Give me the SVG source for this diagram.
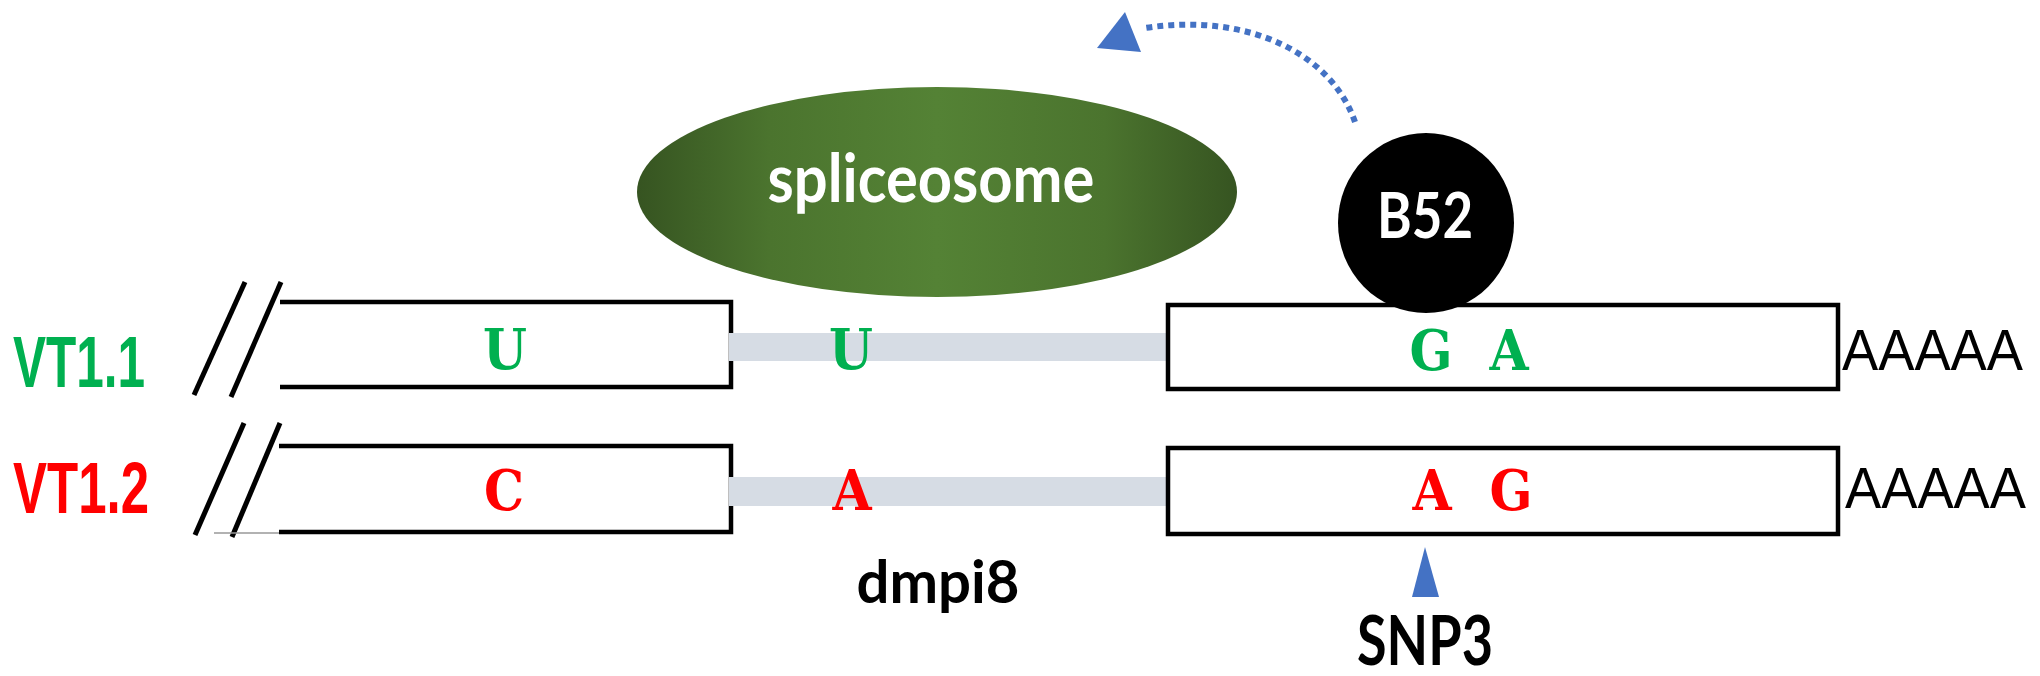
<svg xmlns="http://www.w3.org/2000/svg" width="2040" height="676" viewBox="0 0 2040 676">
<style>
.box{fill:#fff;stroke:#000;stroke-width:4.5}
.slash{stroke:#000;stroke-width:5;fill:none}
.intron{fill:#D6DCE4}
.nt{font-family:"DejaVu Serif","Liberation Serif",serif;font-stretch:condensed;font-weight:bold;font-size:56px;text-anchor:middle}
.g{fill:#00B050}
.r{fill:#FF0000}
.vt{font-family:"Liberation Sans Narrow","Liberation Sans",Arial,sans-serif;font-weight:bold;font-size:72px}
.pa{font-family:"Liberation Sans",Arial,sans-serif;font-size:58px;fill:#000}
.lbl{font-family:Lato,"Open Sans",sans-serif;font-weight:bold;text-anchor:middle}
.blue{fill:#4472C4}
</style>
<defs>
<linearGradient id="gr" x1="0" y1="0" x2="1" y2="0">
<stop offset="0" stop-color="#365421"/>
<stop offset="0.22" stop-color="#4B742E"/>
<stop offset="0.5" stop-color="#548235"/>
<stop offset="0.78" stop-color="#4B742E"/>
<stop offset="1" stop-color="#365421"/>
</linearGradient>
</defs>
<g id="row1">
<g id="label-vt11"><text class="vt g" x="13" y="387" textLength="132" lengthAdjust="spacingAndGlyphs">VT1.1</text></g>
<g id="break-r1"><line class="slash" x1="245" y1="282" x2="194" y2="395"/><line class="slash" x1="281" y1="282" x2="231" y2="397"/></g>
<g id="exon1-r1"><path class="box" d="M280,302 H731 V387 H280"/><text class="nt g" x="505" y="369">U</text></g>
<g id="intron-r1"><rect class="intron" x="729" y="333" width="437" height="28"/><text class="nt g" x="851" y="369">U</text></g>
<g id="exon2-r1"><rect class="box" x="1168" y="305" width="670" height="84"/><text class="nt g" x="1431" y="370">G</text><text class="nt g" x="1509" y="370">A</text></g>
<g id="polya-r1"><text class="pa" x="1842" y="370" textLength="181" lengthAdjust="spacingAndGlyphs">AAAAA</text></g>
</g>
<g id="row2">
<g id="label-vt12"><text class="vt r" x="13" y="513" textLength="136" lengthAdjust="spacingAndGlyphs">VT1.2</text></g>
<g id="break-r2"><line class="slash" x1="244" y1="423" x2="195" y2="535"/><line class="slash" x1="280" y1="423" x2="232" y2="537"/><line x1="214" y1="533" x2="280" y2="533" stroke="#999" stroke-width="1.5"/></g>
<g id="exon1-r2"><path class="box" d="M279,446 H731 V532 H279"/><text class="nt r" x="504" y="510">C</text></g>
<g id="intron-r2"><rect class="intron" x="729" y="477" width="437" height="29"/><text class="nt r" x="852" y="510">A</text></g>
<g id="exon2-r2"><rect class="box" x="1168" y="448" width="670" height="86"/><text class="nt r" x="1432" y="510">A</text><text class="nt r" x="1511" y="510">G</text></g>
<g id="polya-r2"><text class="pa" x="1845" y="508" textLength="181" lengthAdjust="spacingAndGlyphs">AAAAA</text></g>
</g>
<g id="spliceosome">
<ellipse cx="937" cy="192" rx="300" ry="105" fill="url(#gr)"/>
<text class="lbl" x="931" y="202" font-size="66" fill="#fff" textLength="327" lengthAdjust="spacingAndGlyphs">spliceosome</text>
</g>
<g id="b52">
<ellipse cx="1426" cy="223" rx="88" ry="90" fill="#000"/>
<text class="lbl" x="1425" y="238" font-size="64" fill="#fff" textLength="96" lengthAdjust="spacingAndGlyphs">B52</text>
</g>
<g id="dmpi8"><text class="lbl" x="938" y="603" font-size="60" fill="#000" textLength="163" lengthAdjust="spacingAndGlyphs">dmpi8</text></g>
<g id="snp3">
<polygon class="blue" points="1425,547 1412,597 1439,597"/>
<text class="lbl" x="1425" y="665" font-size="68" fill="#000" textLength="136" lengthAdjust="spacingAndGlyphs">SNP3</text>
</g>
<g id="connectors">
<path d="M1355,122 C1332,55 1250,12 1145,28" fill="none" stroke="#4472C4" stroke-width="6" stroke-dasharray="6,5"/>
<polygon class="blue" points="1125,12 1097,48 1141,52"/>
</g>
</svg>
